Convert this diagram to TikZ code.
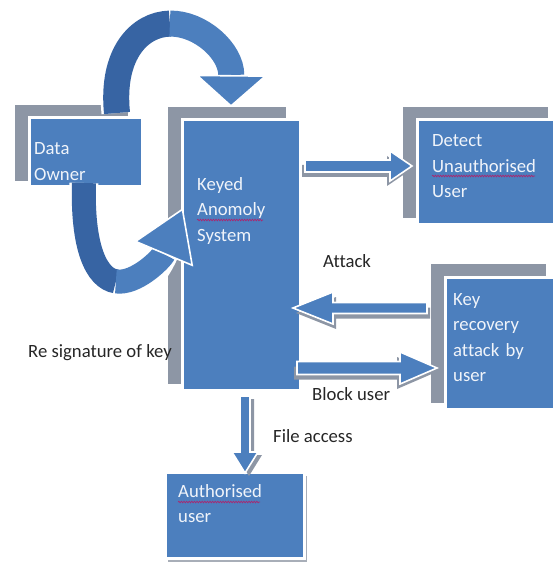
\documentclass[tikz,border=0pt]{standalone}
\usepackage{fontspec}
\setmainfont{Carlito}[Ligatures=NoCommon]
\usetikzlibrary{calc,arrows.meta,decorations.pathmorphing}

\definecolor{boxblue}{RGB}{76,127,190}
\definecolor{deepblue}{RGB}{55,100,163}
\definecolor{framegray}{RGB}{141,150,165}
\definecolor{softgray}{RGB}{168,174,184}
\definecolor{labelink}{RGB}{38,38,38}
\definecolor{boxink}{RGB}{240,244,250}
\definecolor{squig}{RGB}{168,40,112}

\pgfdeclarelayer{bg}
\pgfsetlayers{bg,main}

\tikzset{
  box/.style={draw=white, line width=3pt, fill=boxblue, anchor=north west,
    inner sep=0pt, outer sep=0pt},
  boxtext/.style={anchor=base west, inner sep=0pt, text width=140pt, align=left,
    text=boxink, font=\fontsize{18.7}{25.5}\selectfont},
  lbl/.style={anchor=base west, inner sep=0pt, text=labelink,
    font=\fontsize{18.7}{22}\selectfont},
  arrowbody/.style={fill=boxblue, draw=white, line width=1.6pt, line join=miter},
  arrowshade/.style={fill=framegray},
  spell/.style={squig, line width=0.7pt,
    decorate, decoration={snake, amplitude=0.8pt, segment length=2.6pt}},
}

% block arrow outline from #1 to #2: shaft half width #3, head half width #4, head length #5
\newcommand\arrowoutline[5]{%
  ($(#1)!#3!90:(#2)$) -- ($(ba-h)!#3!90:(#2)$) -- ($(ba-h)!#4!90:(#2)$) -- (#2)
  -- ($(ba-h)!#4!-90:(#2)$) -- ($(ba-h)!#3!-90:(#2)$) -- ($(#1)!#3!-90:(#2)$) -- cycle}
% block arrow with a grey drop shadow shifted by #6
\newcommand\blockarrow[6]{%
  \coordinate (ba-h) at ($(#2)!#5!(#1)$);
  \begin{scope}[transform canvas={shift={#6}}]
    \fill[arrowshade] \arrowoutline{#1}{#2}{#3}{#4}{#5};
  \end{scope}
  \filldraw[arrowbody] \arrowoutline{#1}{#2}{#3}{#4}{#5};
}

\begin{document}
\begin{tikzpicture}[x=1pt, y=-1pt]
\useasboundingbox (0,0) rectangle (552,569);

% ---- boxes ----
\node[box, minimum width=113pt, minimum height=69pt]  (do)   at (29,118)  {};
\node[box, minimum width=118pt, minimum height=270pt] (kas)  at (182,120) {};
\node[box, minimum width=145pt, minimum height=104pt] (det)  at (417,120) {};
\node[box, minimum width=115pt, minimum height=132pt] (key)  at (445,277) {};
\node[box, minimum width=139pt, minimum height=86pt]  (auth) at (165,472) {};

% grey frames behind the boxes
\begin{pgfonlayer}{bg}
  \foreach \b in {do,kas,det,key}{
    \fill[framegray] ([shift={(-14,-13)}]\b.north west) rectangle ([shift={(-14,-6)}]\b.south east);
  }
  \fill[softgray] ([shift={(3,4)}]auth.north west) rectangle ([shift={(3,4)}]auth.south east);
\end{pgfonlayer}

% ---- curved arrows from the data owner ----
\coordinate (upS) at ([shift={(88,-5)}]do.north west);
\coordinate (upM) at (169.9,23.6);
\coordinate (upE) at ([shift={(49,-13)}]kas.north west);
\draw[white, line width=31pt, shorten >=30pt]
  (upS) .. controls (105,-5) and (232,-5) .. (upE);
\draw[deepblue, line width=26pt] (upS) .. controls (111,53.5) and (139.75,24.25) .. (upM);
\draw[boxblue, line width=26pt,
  -{Triangle[length=32pt, width=72pt, line width=1.6pt, color=white, fill=boxblue]}]
  (upM) .. controls (200,23) and (231.5,51) .. (upE);

\coordinate (loS) at ([shift={(55,-4)}]do.south west);
\coordinate (loM) at (115.9,281.4);
\coordinate (loE) at ([shift={(1,88)}]kas.north west);
\draw[white, line width=29pt, shorten >=48pt]
  (loS) .. controls (80,310) and (140,310) .. (loE);
\draw[deepblue, line width=24pt] (loS) .. controls (82,246.5) and (96,278.25) .. (loM);
\draw[boxblue, line width=24pt,
  -{Triangle[length=50pt, width=64pt, line width=1.6pt, color=white, fill=boxblue]}]
  (loM) .. controls (135.75,284.5) and (161.5,259) .. (loE);

% ---- straight arrows ----
\coordinate (a1s) at ([shift={(5,46)}]kas.north east);
\coordinate (a1e) at ([shift={(-5,46)}]det.north west);
\blockarrow{a1s}{a1e}{6pt}{15pt}{22pt}{(-3,5)}

\coordinate (a2s) at ([shift={(-18,31)}]key.north west);
\coordinate (a2e) at ([shift={(-7,188)}]kas.north east);
\blockarrow{a2s}{a2e}{5.5pt}{16pt}{40pt}{(3,5)}

\coordinate (a3s) at ([shift={(-3,248)}]kas.north east);
\coordinate (a3e) at ([shift={(-8,91)}]key.north west);
\blockarrow{a3s}{a3e}{6.5pt}{16pt}{37pt}{(-3,5)}

\coordinate (a4s) at ([shift={(63,6)}]kas.south west);
\coordinate (a4e) at ([shift={(80,1)}]auth.north west);
\blockarrow{a4s}{a4e}{5pt}{13pt}{21pt}{(4,3)}

% ---- texts ----
\node[boxtext] (dotxt)  at (34,155)  {Data\\Owner};
\node[boxtext] (kastxt) at (197,190) {Keyed\\Anomoly\\System};
\node[boxtext] (dettxt) at (432,147) {Detect\\Unauthorised\\User};
\node[boxtext] (keytxt) at (453,305) {Key\\recovery\\attack by\\user};
\node[boxtext] (authtxt) at (178,497) {Authorised\\user};

\draw[spell] (197,220) -- (263,220);
\draw[spell] (432,176) -- (535,176);
\draw[spell] (178,502) -- (260,502);

\node[lbl] (attack) at (323,267) {Attack};
\node[lbl] (block)  at (312,400) {Block user};
\node[lbl] (file)   at (273,442) {File access};
\node[lbl] (resig)  at (28,357)  {Re signature of key};
\end{tikzpicture}
\end{document}
